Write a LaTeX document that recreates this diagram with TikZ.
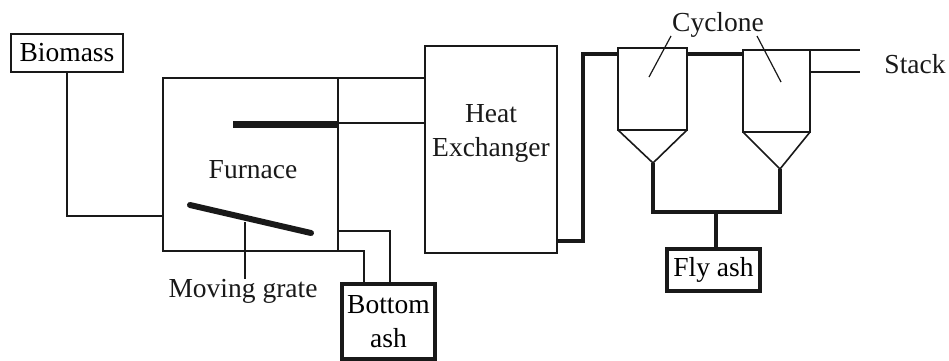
\documentclass[tikz,border=0pt]{standalone}
\usepackage{fontspec}
\setmainfont{Liberation Serif}
\usetikzlibrary{calc,positioning}
\definecolor{inkblack}{rgb}{0.10, 0.10, 0.10}
\tikzset{
  equipo/.style={
    draw=inkblack,
    line width=1.6pt,
    outer sep=0pt,
    inner sep=0pt
  },
  caja/.style={
    draw=inkblack,
    line width=1.6pt,
    outer sep=0pt,
    inner sep=0pt,
    align=center
  },
  cajafuerte/.style={
    caja,
    line width=3.2pt
  },
  rotulo/.style={
    align=center,
    inner sep=0pt,
    text=inkblack
  },
  linea/.style={
    draw=inkblack,
    line width=1.6pt
  },
  tubo/.style={
    draw=inkblack,
    line width=3.6pt
  }
}

\begin{document}
\begin{tikzpicture}[x=1pt,y=-1pt,font=\fontsize{27.5}{34}\selectfont]
\useasboundingbox (0,0) rectangle (949,360);

\node[caja, minimum width=112pt, minimum height=38pt] (biomass) at (67,53) {Biomass};
\node[equipo, minimum width=175pt, minimum height=173pt] (furnace) at (250.5,164.5) {};
\node[equipo, minimum width=132pt, minimum height=207pt] (exchanger) at (491,149.5) {};
\node[cajafuerte, minimum width=93pt, minimum height=75pt] (bottomash) at (388.5,321.5) {Bottom\\ash};
\node[cajafuerte, minimum width=93pt, minimum height=42pt] (flyash) at (713.5,270) {Fly ash};
\node[equipo, minimum width=69pt, minimum height=82pt] (cycloneA) at (652.5,89) {};
\node[equipo, minimum width=67pt, minimum height=82pt] (cycloneB) at (776.5,91) {};

\node[rotulo] (furnacetxt) at (253,170) {Furnace};
\node[rotulo] (exchangertxt) at (491,133) {Heat\\Exchanger};
\node[rotulo] (grate) at (243,291) {Moving grate};
\node[rotulo] (cyclone) at (718,25) {Cyclone};
\node[rotulo] (stack) at (915,64) {Stack};

% puntos libres
\coordinate (tipA) at (653,163);
\coordinate (tipB) at (780,169);
\coordinate (baffle) at (233,124);
\coordinate (baffleend) at (338,124);
\coordinate (grateA) at (190,205);
\coordinate (grateB) at (311,233);
\coordinate (grateleg) at (245,222);
\coordinate (leaderA) at (649,77);
\coordinate (leaderB) at (781,82);
\coordinate (stackA) at (860,50);
\coordinate (stackB) at (860,72);
\coordinate (junction) at (716,212);

% hogar
\draw[linea] (biomass.south) |- (furnace.west |- 0,216);
\draw[line width=7pt, draw=inkblack] (baffle) -- (baffleend);
\draw[line width=6pt, line cap=round, draw=inkblack] (grateA) -- (grateB);
\draw[linea] (grateleg) -- (grateleg |- grate.north);
\draw[linea] (furnace.north east) -- (exchanger.west |- furnace.north);
\draw[linea] (baffleend) ++(0,-1) -- (exchanger.west |- 0,123);
\draw[linea] (furnace.south east) -| (bottomash.north -| 364,0);
\draw[linea] (furnace.east |- 0,231) -| (bottomash.north -| 390,0);

% ciclones
\draw[tubo] (exchanger.east |- 0,241) -| (583,54) -- (cycloneA.west |- 0,54);
\draw[tubo] (cycloneA.east |- 0,54) -- (cycloneB.west |- 0,54);
\draw[linea] (cycloneA.south west) -- (tipA) -- (cycloneA.south east);
\draw[linea] (cycloneB.south west) -- (tipB) -- (cycloneB.south east);
\draw[tubo] (tipA) |- (junction) -| (tipB);
\draw[tubo] (junction) -- (flyash.north -| junction);
\draw[line width=1.2pt, draw=inkblack] (671,36) -- (leaderA);
\draw[line width=1.2pt, draw=inkblack] (757,36) -- (leaderB);
\draw[linea] (cycloneB.north east) -- (stackA);
\draw[linea] (cycloneB.east |- stackB) -- (stackB);
\end{tikzpicture}
\end{document}
